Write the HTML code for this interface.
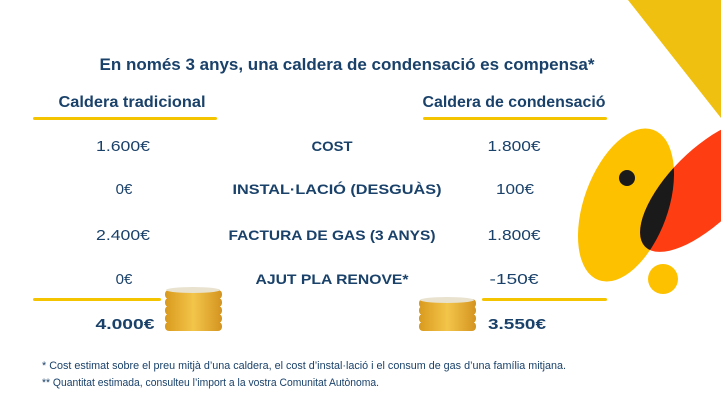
<!DOCTYPE html>
<html><head><meta charset="utf-8"><style>
html,body{margin:0;padding:0;background:#fff;width:721px;height:401px;overflow:hidden}
svg{display:block}
text{font-family:"Liberation Sans",sans-serif;fill:#19416a}
.b{font-weight:bold}
</style></head><body>
<svg width="721" height="401" viewBox="0 0 721 401" xmlns="http://www.w3.org/2000/svg">
<defs>
<clipPath id="cy"><ellipse cx="626" cy="205" rx="42" ry="80" transform="rotate(20 626 205)"/></clipPath>
<linearGradient id="coin" x1="0" x2="1"><stop offset="0" stop-color="#d99a1e"/><stop offset=".5" stop-color="#f3c54a"/><stop offset="1" stop-color="#d49420"/></linearGradient>
</defs>
<polygon points="628,0 721,0 721,118" fill="#f0c010"/>
<ellipse cx="626" cy="205" rx="42" ry="80" transform="rotate(20 626 205)" fill="#fdc100"/>
<ellipse cx="706" cy="186" rx="36" ry="86" transform="rotate(45 706 186)" fill="#ff3d12"/>
<g clip-path="url(#cy)"><ellipse cx="706" cy="186" rx="36" ry="86" transform="rotate(45 706 186)" fill="#1a1a1a"/></g>
<circle cx="627" cy="178" r="8" fill="#1a1a1a"/>
<circle cx="663" cy="279" r="15" fill="#fdc100"/>

<text x="347" y="70" text-anchor="middle" class="b" font-size="17" textLength="495" lengthAdjust="spacingAndGlyphs">En només 3 anys, una caldera de condensació es compensa*</text>
<text x="132" y="107" text-anchor="middle" class="b" font-size="16" textLength="147" lengthAdjust="spacingAndGlyphs">Caldera tradicional</text>
<text x="514" y="107" text-anchor="middle" class="b" font-size="16" textLength="183" lengthAdjust="spacingAndGlyphs">Caldera de condensació</text>
<rect x="33" y="117" width="184" height="3" rx="1.5" fill="#f5c400"/>
<rect x="423" y="117" width="184" height="3" rx="1.5" fill="#f5c400"/>

<g font-size="15" text-anchor="middle">
<text x="123" y="151" textLength="54" lengthAdjust="spacingAndGlyphs">1.600€</text>
<text x="124" y="194">0€</text>
<text x="123" y="240" textLength="54" lengthAdjust="spacingAndGlyphs">2.400€</text>
<text x="124" y="284">0€</text>
<text x="514" y="151" textLength="53" lengthAdjust="spacingAndGlyphs">1.800€</text>
<text x="515" y="194" textLength="38" lengthAdjust="spacingAndGlyphs">100€</text>
<text x="514" y="240" textLength="53" lengthAdjust="spacingAndGlyphs">1.800€</text>
<text x="514" y="284" textLength="49" lengthAdjust="spacingAndGlyphs">-150€</text>
</g>
<g font-size="14" text-anchor="middle" class="b">
<text x="332" y="151" textLength="41" lengthAdjust="spacingAndGlyphs">COST</text>
<text x="337" y="194" textLength="209" lengthAdjust="spacingAndGlyphs">INSTAL·LACIÓ (DESGUÀS)</text>
<text x="332" y="240" textLength="207" lengthAdjust="spacingAndGlyphs">FACTURA DE GAS (3 ANYS)</text>
<text x="332" y="284" textLength="153" lengthAdjust="spacingAndGlyphs">AJUT PLA RENOVE*</text>
</g>
<rect x="33" y="298" width="128" height="3" rx="1.5" fill="#f5c400"/>
<rect x="482" y="298" width="125" height="3" rx="1.5" fill="#f5c400"/>
<text x="125" y="329" text-anchor="middle" class="b" font-size="15" textLength="59" lengthAdjust="spacingAndGlyphs">4.000€</text>
<text x="517" y="329" text-anchor="middle" class="b" font-size="15" textLength="58" lengthAdjust="spacingAndGlyphs">3.550€</text>

<g>
<rect x="165" y="322" width="57" height="9" rx="4" fill="url(#coin)"/>
<rect x="165" y="314" width="57" height="9" rx="4" fill="url(#coin)"/>
<rect x="165" y="306" width="57" height="9" rx="4" fill="url(#coin)"/>
<rect x="165" y="298" width="57" height="9" rx="4" fill="url(#coin)"/>
<rect x="165" y="290" width="57" height="9" rx="4" fill="url(#coin)"/>
<ellipse cx="193" cy="290" rx="27" ry="3" fill="#e8e2cf"/>
</g>
<g>
<rect x="419" y="322" width="57" height="9" rx="4" fill="url(#coin)"/>
<rect x="419" y="314" width="57" height="9" rx="4" fill="url(#coin)"/>
<rect x="419" y="306" width="57" height="9" rx="4" fill="url(#coin)"/>
<rect x="419" y="299" width="57" height="9" rx="4" fill="url(#coin)"/>
<ellipse cx="447" cy="300" rx="27" ry="3" fill="#e8e2cf"/>
</g>

<text x="42" y="369" font-size="11" textLength="524" lengthAdjust="spacingAndGlyphs">* Cost estimat sobre el preu mitjà d’una caldera, el cost d’instal·lació i el consum de gas d’una família mitjana.</text>
<text x="42" y="386" font-size="11" textLength="337" lengthAdjust="spacingAndGlyphs">** Quantitat estimada, consulteu l’import a la vostra Comunitat Autònoma.</text>
</svg>
</body></html>
